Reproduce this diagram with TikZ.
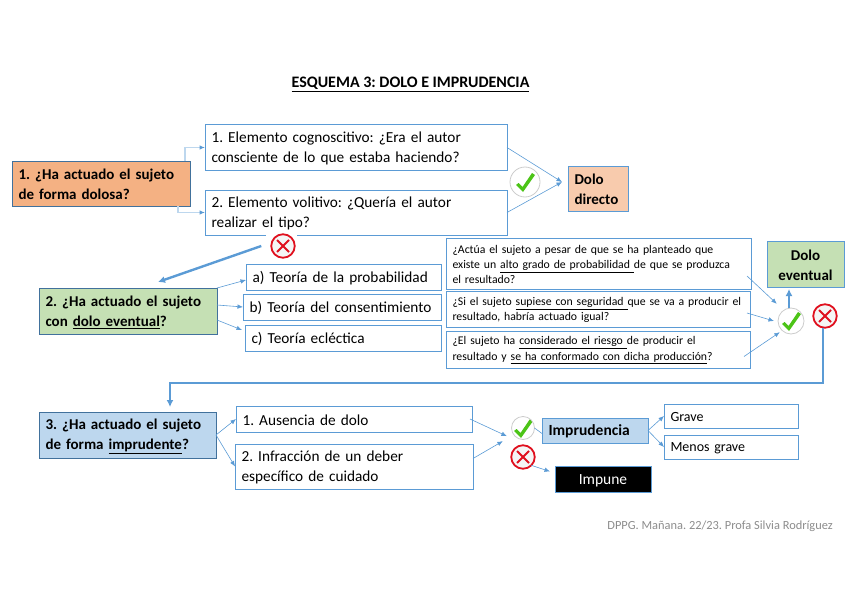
\documentclass[tikz,border=0pt]{standalone}
\usepackage{fontspec}
\setmainfont{Carlito}
\usepackage{xcolor}
\usetikzlibrary{arrows.meta}
\frenchspacing
\definecolor{edgeblue}{HTML}{5B9BD5}
\definecolor{edgedark}{HTML}{41719C}
\definecolor{paleblue}{HTML}{BDD7EE}
\definecolor{orangefill}{HTML}{F4B183}
\definecolor{peachfill}{HTML}{F8CBAD}
\definecolor{greenfill}{HTML}{C5E0B4}
\definecolor{okgreen}{HTML}{4CC417}
\definecolor{nored}{HTML}{E0101E}
\tikzset{
  anybox/.style 2 args={rectangle,outer sep=0pt,inner xsep=6.5pt,inner ysep=0pt,align=left,
    text width=#1pt-13pt,minimum height=#2pt,execute at begin node={\rule{0pt}{.85em}}},
  plainbox/.style 2 args={anybox={#1}{#2},draw=edgeblue,line width=1pt,fill=white,
    font=\fontsize{15.3}{20}\selectfont},
  askbox/.style 2 args={anybox={#1}{#2},draw=edgeblue,line width=1pt,fill=white,
    font=\fontsize{11.75}{15.4}\selectfont},
  keybox/.style n args={3}{anybox={#1}{#2},draw=edgedark,line width=1pt,fill=#3,
    font=\fontsize{15}{20}\selectfont\bfseries},
  okcirc/.style={circle,draw=black!20,line width=.8pt,fill=white,inner sep=0pt,outer sep=0pt,
    minimum size=2*#1 pt,path picture={
      \fill[okgreen,shift={(path picture bounding box.center)},scale=#1/14]
        (-9,3) -- (-6.5,1) -- (-2.5,5) -- (7,-9) -- (10,-7) -- (-2,10) -- cycle;}},
  nocirc/.style={circle,draw=nored,line width=1.8pt,fill=black!4,inner sep=0pt,outer sep=0pt,
    minimum size=23.5pt,path picture={
      \draw[nored,line width=1.9pt,shift={(path picture bounding box.center)}]
        (-6,-6) -- (6,6) (-6,6) -- (6,-6);}},
  thin con/.style={draw=edgeblue,line width=.6pt,-{Latex[length=5.5pt,width=4.5pt]}},
  pale con/.style={draw=paleblue,line width=1.2pt,-{Latex[length=5.5pt,width=4.5pt,color=edgeblue]}},
  wide con/.style={draw=edgeblue,line width=2.4pt,-{Latex[length=7pt,width=7pt]}}
}
\begin{document}
\begin{tikzpicture}[x=1pt,y=-1pt]
  \useasboundingbox (0,0) rectangle (848,599);
  \node[font=\fontsize{16}{17}\selectfont\bfseries] (title) at (410.5,84.5) {\underline{ESQUEMA 3: DOLO E IMPRUDENCIA}};
  % first question
  \node[keybox={178}{45}{orangefill}] (dolosa) at (101,183.5) {1. ¿Ha actuado el sujeto\\de forma dolosa?};
  \node[plainbox={302}{45}] (cogn) at (356,147.5) {1. Elemento cognoscitivo: ¿Era el autor\\consciente de lo que estaba haciendo?};
  \node[plainbox={302}{45}] (voli) at (356,212.5) {2. Elemento volitivo: ¿Quería el autor\\realizar el tipo?};
  \node[keybox={60}{45}{peachfill},draw=edgeblue] (directo) at (598,188.5) {Dolo\\directo};
  \node[okcirc=15] (okone) at (525,182) {};
  \fill[white] (266,233) rectangle (297,237.5);
  \node[nocirc] (noone) at (283,246) {};
  % second question
  \node[keybox={178}{46}{greenfill}] (eventual) at (128,311) {2. ¿Ha actuado el sujeto\\con \underline{dolo eventual}?};
  \node[plainbox={195}{26}] (teoa) at (343.5,277) {a) Teoría de la probabilidad};
  \node[plainbox={198}{26}] (teob) at (342,307) {b) Teoría del consentimiento};
  \node[plainbox={196}{26}] (teoc) at (343,338) {c) Teoría ecléctica};
  \node[askbox={305}{51}] (askone) at (598.5,263.5) {¿Actúa el sujeto a pesar de que se ha planteado que\\existe un \underline{alto grado de probabilidad\ }de que se produzca\\el resultado?};
  \node[askbox={304}{36}] (asktwo) at (598,309) {¿Si el sujeto \underline{supiese con seguridad\ }que se va a producir el\\resultado, habría actuado igual?};
  \node[askbox={304}{37}] (askthree) at (598,349.5) {¿El sujeto ha \underline{considerado el riesgo\ }de producir el\\resultado y \underline{se ha conformado con dicha producción}?};
  \node[keybox={77}{46}{greenfill},draw=edgeblue,align=center] (doloev) at (805.5,264) {Dolo\\eventual};
  \node[okcirc=13] (oktwo) at (791,321) {};
  \node[nocirc] (notwo) at (825,316) {};
  % third question
  \node[keybox={177}{46}{paleblue}] (imprud) at (127.5,435) {3. ¿Ha actuado el sujeto\\de forma \underline{imprudente}?};
  \node[plainbox={236}{26}] (ausencia) at (354,419) {1. Ausencia de dolo};
  \node[plainbox={238}{45}] (deber) at (354,466.5) {2. Infracción de un deber\\específico de cuidado};
  \node[okcirc=11.5] (okthree) at (523,428) {};
  \node[nocirc] (nothree) at (523,457) {};
  \node[keybox={106}{25}{paleblue},draw=edgeblue,font=\fontsize{15.5}{20}\selectfont\bfseries] (imprudencia) at (595,430.5) {Imprudencia};
  \node[plainbox={134}{24},font=\fontsize{14}{20}\selectfont] (grave) at (731,416) {Grave};
  \node[plainbox={134}{24},font=\fontsize{14}{20}\selectfont] (menos) at (731,447) {Menos grave};
  \node[keybox={96}{26}{black},draw=edgeblue,align=center,text=white,font=\fontsize{15.5}{20}\selectfont] (impune) at (603,479.5) {Impune};
  \node[anchor=east,inner sep=0pt,text=black!45,font=\fontsize{12.4}{14}\selectfont] (firma) at (833,526) {DPPG. Mañana. 22/23. Profa Silvia Rodríguez};
  % connectors
  \coordinate (bendone) at (170,383);
  \coordinate (tipone) at (158,282);
  \draw[pale con] ([xshift=-5pt]dolosa.north east) |- (cogn.west);
  \draw[pale con] ([xshift=-12pt]dolosa.south east) |- (voli.west);
  \draw[thin con] (cogn.east) -- ([xshift=-6pt,yshift=6.5pt]directo.west);
  \draw[thin con] (voli.east) -- ([xshift=-6pt,yshift=6.5pt]directo.west);
  \draw[wide con] ([xshift=-10pt]noone.west) -- (tipone);
  \draw[thin con] (eventual.north east) -- ([yshift=-3pt]teoa.west);
  \draw[thin con] ([yshift=6pt]eventual.east) -- (teob.west);
  \draw[thin con] ([yshift=-9pt]eventual.east) -- ([xshift=-3pt,yshift=8pt]teoc.west);
  \draw[thin con] ([xshift=-4pt,yshift=13pt]askone.south east) -- ([xshift=-5pt,yshift=8pt]oktwo.north west);
  \draw[thin con] ([xshift=-3pt,yshift=-4pt]asktwo.east) -- ([xshift=-4pt]oktwo.west);
  \draw[thin con] ([xshift=-6pt,yshift=-7pt]askthree.east) -- ([xshift=-2pt,yshift=-2pt]oktwo.south west);
  \draw[wide con,line width=2pt] ([xshift=-2pt]oktwo.north) -- ++(0,-19);
  \draw[wide con] ([xshift=-2pt]notwo.south) |- (bendone) -- ([yshift=5pt]bendone |- imprud.north);
  \draw[thin con] (imprud.east) -- (ausencia.west);
  \draw[thin con] (imprud.east) -- (deber.west);
  \draw[thin con] ([xshift=-2pt]ausencia.east) -- ([xshift=-8pt]okthree.south west);
  \draw[thin con] ([yshift=8pt]deber.east) -- ([xshift=-12pt,yshift=-5pt]okthree.south west);
  \draw[draw=edgeblue,line width=.6pt] (okthree.east) -- ([yshift=-3pt]imprudencia.west);
  \draw[thin con] (nothree.south east) -- ([xshift=-5pt,yshift=8pt]impune.west);
  \draw[thin con] (imprudencia.east) -- (grave.west);
  \draw[thin con] (imprudencia.east) -- (menos.west);
\end{tikzpicture}
\end{document}
